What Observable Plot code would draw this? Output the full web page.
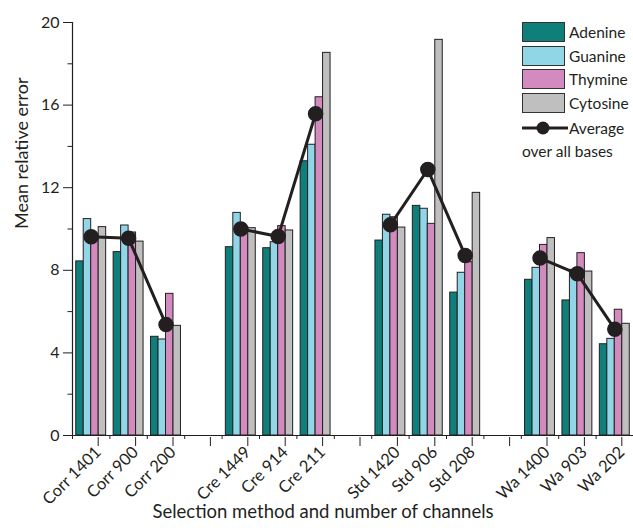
<!DOCTYPE html>
<html>
<head>
<meta charset="utf-8">
<script src="https://cdn.jsdelivr.net/npm/d3@7"></script>
<script src="https://cdn.jsdelivr.net/npm/@observablehq/plot@0.6"></script>
<style>
  body { margin: 0; background: #fff; font-family: Lato, "Noto Sans", sans-serif; }
  #wrap { position: relative; width: 633px; height: 528px; }
  #legend { position: absolute; left: 522px; top: 22px; font-size: 15.5px; color: #231f20; }
  .row { display: flex; align-items: center; height: 20px; margin-bottom: 3.5px; }
  .sw { width: 43px; height: 20px; border: 1px solid #333; box-sizing: border-box; margin-right: 4px; }
  .lab { line-height: 20px; }
</style>
</head>
<body>
<div id="wrap"></div>
<script>
const categories = ["Corr 1401","Corr 900","Corr 200","Cre 1449","Cre 914","Cre 211","Std 1420","Std 906","Std 208","Wa 1400","Wa 903","Wa 202"];
const methods = ["Corr","Corr","Corr","Cre","Cre","Cre","Std","Std","Std","Wa","Wa","Wa"];
const bases = ["Adenine","Guanine","Thymine","Cytosine"];
const adenine  = [8.43, 8.88, 4.78, 9.12, 9.07, 13.28, 9.44, 11.12, 6.92, 7.54, 6.54, 4.42];
const guanine  = [10.48, 10.17, 4.65, 10.78, 9.36, 14.08, 10.69, 10.98, 7.88, 8.12, 8.02, 4.68];
const thymine  = [9.5, 9.83, 6.86, 10.09, 10.14, 16.38, 10.57, 10.25, 8.39, 9.23, 8.83, 6.09];
const cytosine = [10.09, 9.39, 5.31, 10.04, 9.93, 18.53, 10.07, 19.16, 11.75, 9.56, 7.94, 5.41];
const average  = [9.62, 9.55, 5.37, 10.0, 9.64, 15.58, 10.2, 12.88, 8.72, 8.59, 7.83, 5.15];
const colors = ["#0f7f7b", "#90d6e7", "#d38abe", "#bfbfbf"];
const yTicks = [0, 4, 8, 12, 16, 20];
const yLabel = "Mean relative error";
const xLabel = "Selection method and number of channels";

const series = [adenine, guanine, thymine, cytosine];
// slot index along x: groups of three with one empty slot between methods
const slotOf = i => i + Math.floor(i / 3);
const bars = [];
categories.forEach((c, i) => bases.forEach((b, j) => bars.push({cat: c, base: b, j, slot: slotOf(i), value: series[j][i]})));
const avg = categories.map((c, i) => ({cat: c, method: methods[i], slot: slotOf(i), value: average[i]}));
const labelAt = new Map(categories.map((c, i) => [slotOf(i) + 0.5, c]));
const nSlots = slotOf(categories.length - 1) + 1;
const ink = "#231f20";

const chart = Plot.plot({
  width: 633,
  height: 528,
  marginLeft: 72,
  marginRight: 0,
  marginTop: 22,
  marginBottom: 93,
  style: {fontFamily: "Lato, 'Noto Sans', sans-serif", color: ink, background: "#fff"},
  x: {type: "linear", domain: [0, nSlots]},
  y: {domain: [0, 20]},
  color: {domain: bases, range: colors},
  marks: [
    Plot.rectY(bars, {
      x1: d => d.slot + 0.1 + d.j * 0.2,
      x2: d => d.slot + 0.1 + (d.j + 1) * 0.2,
      y: "value",
      fill: "base",
      stroke: ink,
      strokeWidth: 1
    }),
    Plot.line(avg, {x: d => d.slot + 0.5, y: "value", z: "method", stroke: ink, strokeWidth: 3}),
    Plot.dot(avg, {x: d => d.slot + 0.5, y: "value", r: 7, fill: ink, stroke: ink}),
    Plot.ruleY([0], {stroke: ink, strokeWidth: 1.2}),
    Plot.ruleX([0], {y1: 0, y2: 20, stroke: ink, strokeWidth: 1.2}),
    Plot.axisY({ticks: yTicks, tickSize: 9, tickPadding: 4, fontSize: 16, label: null, stroke: ink}),
    Plot.axisY({ticks: d3.range(2, 20, 4), tickSize: 4.5, tickFormat: () => "", label: null, stroke: ink}),
    Plot.axisX({ticks: d3.range(0, nSlots + 0.01, 1), tickSize: 4, tickFormat: () => "", label: null, stroke: ink}),
    Plot.axisX({ticks: d3.range(0.5, nSlots, 1), tickSize: 9, tickPadding: 3, tickRotate: -45, fontSize: 16.5,
                dx: 7, dy: 2, tickFormat: d => labelAt.get(d) || "", label: null, stroke: ink}),
    Plot.text([yLabel], {frameAnchor: "left", rotate: -90, dx: -50, fontSize: 18, fill: ink}),
    Plot.text([xLabel], {frameAnchor: "bottom", dy: 82, dx: -30, fontSize: 18.5, fill: ink})
  ]
});
const wrap = document.getElementById("wrap");
wrap.appendChild(chart);

const legend = document.createElement("div");
legend.id = "legend";
bases.forEach((b, j) => {
  const row = document.createElement("div");
  row.className = "row";
  row.innerHTML = `<div class="sw" style="background:${colors[j]}"></div><span class="lab">${b}</span>`;
  legend.appendChild(row);
});
const avgRow = document.createElement("div");
avgRow.className = "row";
avgRow.style.marginTop = "5px";
avgRow.innerHTML = `<svg width="47" height="20"><line x1="0" x2="46" y1="10" y2="10" stroke="${ink}" stroke-width="3"/><circle cx="21" cy="10" r="6.5" fill="${ink}"/></svg><span class="lab">Average</span>`;
legend.appendChild(avgRow);
const avgRow2 = document.createElement("div");
avgRow2.className = "lab";
avgRow2.style.marginTop = "1px";
avgRow2.textContent = "over all bases";
legend.appendChild(avgRow2);
wrap.appendChild(legend);
</script>
</body>
</html>
